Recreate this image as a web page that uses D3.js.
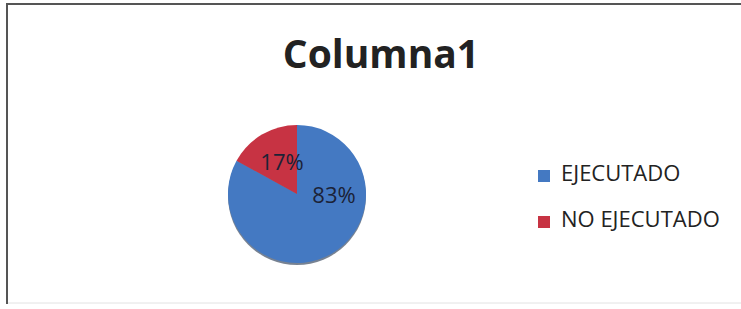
<!DOCTYPE html>
<html>
<head>
<meta charset="utf-8">
<script src="https://cdn.jsdelivr.net/npm/d3@7"></script>
<style>
  html, body { margin: 0; padding: 0; background: #fff; }
  svg { display: block; }
</style>
</head>
<body>
<div id="chart"></div>
<script>
// torta simple: ejecutado vs no ejecutado
const CATEGORIES = ["EJECUTADO", "NO EJECUTADO"];
const VALUES = [83, 17];
const LABELS = ["83%", "17%"];
const COLORS = ["#4479c2", "#c73343"];
const TITLE = "Columna1";

const W = 741, H = 309;
const svg = d3.select("#chart").append("svg").attr("width", W).attr("height", H);

// marco del gráfico
svg.append("path")
  .attr("d", `M7,${H - 5} L7,4 L${W},4`)
  .attr("fill", "none")
  .attr("stroke", "#555")
  .attr("stroke-width", 2);
svg.append("line")
  .attr("x1", 8).attr("x2", W).attr("y1", H - 6).attr("y2", H - 6)
  .attr("stroke", "#e2e2e2").attr("stroke-width", 1);

svg.append("text")
  .attr("x", 381).attr("y", 68)
  .attr("text-anchor", "middle")
  .attr("font-family", "Open Sans, sans-serif")
  .attr("font-weight", 700)
  .attr("font-size", 39)
  .attr("fill", "#222")
  .text(TITLE);

const cx = 297, cy = 194, r = 69;
const pie = d3.pie().sort(null).value((d) => d)(VALUES);
const arc = d3.arc().innerRadius(0).outerRadius(r);

const g = svg.append("g").attr("transform", `translate(${cx},${cy})`);

// sombra inferior
g.append("circle").attr("cx", 0).attr("cy", 2).attr("r", r).attr("fill", "#1d2f4a").attr("opacity", 0.6);

g.selectAll("path.slice")
  .data(pie)
  .join("path")
  .attr("class", "slice")
  .attr("d", arc)
  .attr("fill", (d, i) => COLORS[i]);

const labelPos = [[37, 3], [-15, -30]];
g.selectAll("text.pct")
  .data(pie)
  .join("text")
  .attr("class", "pct")
  .attr("x", (d, i) => labelPos[i][0])
  .attr("y", (d, i) => labelPos[i][1])
  .attr("text-anchor", "middle")
  .attr("dominant-baseline", "middle")
  .attr("font-family", "Open Sans, sans-serif")
  .attr("font-size", 22)
  .attr("fill", "#1b2236")
  .text((d, i) => LABELS[i]);

const legend = svg.append("g").attr("transform", "translate(538,175)");
const items = legend.selectAll("g").data(CATEGORIES).join("g")
  .attr("transform", (d, i) => `translate(0,${i * 46})`);
items.append("rect")
  .attr("x", 0).attr("y", -5).attr("width", 12).attr("height", 12)
  .attr("fill", (d, i) => COLORS[i]);
items.append("text")
  .attr("x", 23).attr("y", 0)
  .attr("dominant-baseline", "middle")
  .attr("font-family", "Open Sans, sans-serif")
  .attr("font-size", 22)
  .attr("fill", "#222")
  .text((d) => d);
</script>
</body>
</html>
